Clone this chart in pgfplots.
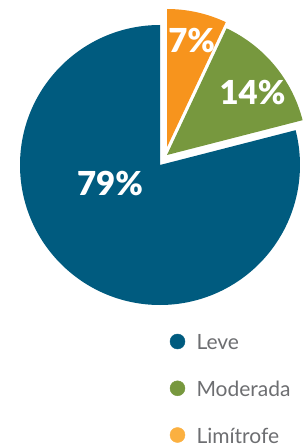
\documentclass[border=0pt]{standalone}
\usepackage{pgfplots}
\pgfplotsset{compat=1.18}
\usepackage{fontspec}
\setmainfont{Lato}
\newfontfamily\heavy{Lato Black}
\definecolor{cblue}{HTML}{005B7F}
\definecolor{cgreen}{HTML}{77983E}
\definecolor{corange}{HTML}{F7941D}
\definecolor{corangel}{HTML}{FBB040}
\definecolor{cgray}{HTML}{6D6E71}
\begin{document}
\begin{tikzpicture}
% shares (percent)
\pgfmathsetmacro{\vL}{79}
\pgfmathsetmacro{\vM}{14}
\pgfmathsetmacro{\vT}{7}
\pgfmathsetmacro{\aT}{90-3.6*\vT}
\pgfmathsetmacro{\aM}{\aT-3.6*\vM}
\pgfmathsetmacro{\aLend}{90+3.6*\vL}
\begin{axis}[x=1pt,y=1pt,xmin=0,xmax=304,ymin=0,ymax=448,
  hide axis,clip=true,at={(0,0)},anchor=south west]
% Leve
\fill[cblue] (axis cs:160,283) -- ([shift={(90:140pt)}]axis cs:160,283)
  arc[start angle=90,end angle=\aLend,radius=140pt] -- cycle;
% Limitrofe (exploded)
\fill[corange] (axis cs:167,301) -- ([shift={(\aT:138pt)}]axis cs:167,301)
  arc[start angle=\aT,end angle=90,radius=138pt] -- cycle;
% Moderada (exploded)
\fill[cgreen] (axis cs:167,293) -- ([shift={(\aM:140pt)}]axis cs:167,293)
  arc[start angle=\aM,end angle=\aT,radius=140pt] -- cycle;
% labels
\node[white,font=\heavy\fontsize{33}{33}\selectfont] at (axis cs:110,265) {79\%};
\node[white,font=\heavy\fontsize{33}{33}\selectfont] at (axis cs:252.5,355) {14\%};
\node[white,font=\heavy\fontsize{33}{33}\selectfont] at (axis cs:191.7,407.5) {7\%};
% legend markers
\addplot[only marks,mark=*,mark size=7.5pt,cblue] coordinates {(177.5,106.5)};
\addplot[only marks,mark=*,mark size=7.5pt,cgreen] coordinates {(177.5,59.7)};
\addplot[only marks,mark=*,mark size=7.5pt,corangel] coordinates {(177.5,13)};
\node[cgray,anchor=base west,font=\fontsize{21}{21}\selectfont] at (axis cs:193,98.5) {Leve};
\node[cgray,anchor=base west,font=\fontsize{21}{21}\selectfont] at (axis cs:193,51.7) {Moderada};
\node[cgray,anchor=base west,font=\fontsize{21}{21}\selectfont] at (axis cs:193,5) {Limítrofe};
\end{axis}
\pgfresetboundingbox
\path[use as bounding box] (0,0) rectangle (304pt,448pt);
\end{tikzpicture}
\end{document}
